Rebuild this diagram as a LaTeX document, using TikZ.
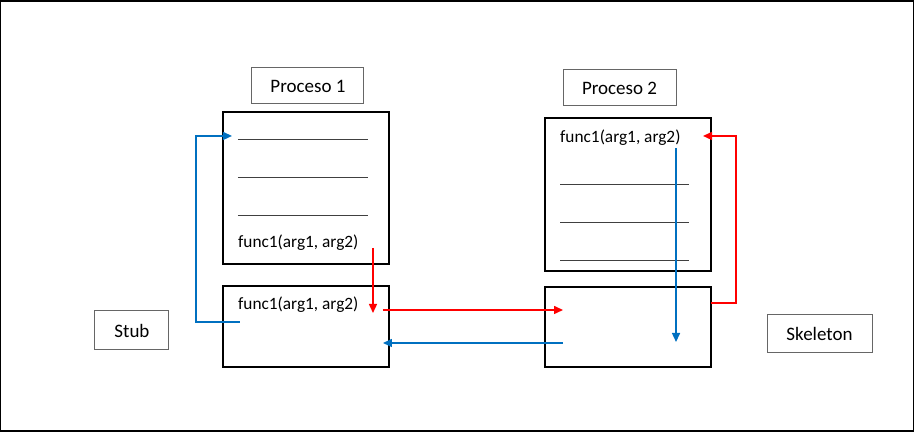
\documentclass[tikz,border=0pt]{standalone}
\usepackage{fontspec}
\setmainfont{Carlito}
\usetikzlibrary{arrows.meta}
\definecolor{rpcblue}{RGB}{0,112,192}
\definecolor{rpcred}{RGB}{255,0,0}
\tikzset{
    procbox/.style={draw=black, line width=1.8pt, minimum width=166pt},
    tagbox/.style={draw=gray!80!black, line width=1pt, font=\fontsize{19}{22}\selectfont},
    codetext/.style={anchor=west, inner sep=0pt, font=\fontsize{17.3}{20}\selectfont},
    blank/.style={draw=black!75, line width=0.9pt},
    callarrow/.style={rpcred, line width=1.5pt, -{Triangle[length=9pt,width=8pt]}},
    backarrow/.style={rpcblue, line width=1.5pt, -{Triangle[length=9pt,width=8pt]}},
}
\begin{document}
\begin{tikzpicture}[x=1pt,y=-1pt]
    \draw[line width=1.5pt] (0.8,0.8) rectangle (913.2,431.2);
    % labels
    \node[tagbox, minimum width=112pt, minimum height=36pt] (lbl1) at (308,86) {Proceso 1};
    \node[tagbox, minimum width=113pt, minimum height=36pt] (lbl2) at (619.5,88) {Proceso 2};
    \node[tagbox, minimum width=74pt, minimum height=39pt] (stublbl) at (132,330.5) {Stub};
    \node[tagbox, minimum width=105pt, minimum height=38pt] (skellbl) at (819.5,334) {Skeleton};
    % boxes
    \node[procbox, minimum height=152pt] (p1) at (306,188) {};
    \node[procbox, minimum height=81pt] (stub) at (306,326.5) {};
    \node[procbox, minimum height=153pt] (p2) at (628,194.5) {};
    \node[procbox, minimum height=80pt] (skel) at (628,327) {};
    % code lines
    \foreach \y in {139,177,215} \draw[blank] (238,\y) -- (368,\y);
    \foreach \y in {184,222,260} \draw[blank] (560,\y) -- (689,\y);
    \node[codetext] (call1) at (238,243) {func1(arg1, arg2)};
    \node[codetext] (call2) at (238,305) {func1(arg1, arg2)};
    \node[codetext] (call3) at (560,138) {func1(arg1, arg2)};
    % arrows
    \coordinate (callout) at (373,248);
    \coordinate (stubin) at (373,313);
    \coordinate (stubsend) at (383,310);
    \coordinate (skelin) at (563,310);
    \coordinate (skelsend) at (563,343);
    \coordinate (stubback) at (383,343);
    \coordinate (skelup) at (711,303);
    \coordinate (p2in) at (703,136);
    \coordinate (p2out) at (676,148);
    \coordinate (skeldown) at (676,342);
    \coordinate (stubret) at (240,322);
    \coordinate (p1in) at (232,136);
    \draw[callarrow] (callout) -- (stubin);
    \draw[callarrow] (stubsend) -- (skelin);
    \draw[callarrow] (skelup) -- ++(25,0) |- (p2in);
    \draw[backarrow] (p2out) -- (skeldown);
    \draw[backarrow] (skelsend) -- (stubback);
    \draw[backarrow] (stubret) -- ++(-44,0) |- (p1in);
\end{tikzpicture}
\end{document}
